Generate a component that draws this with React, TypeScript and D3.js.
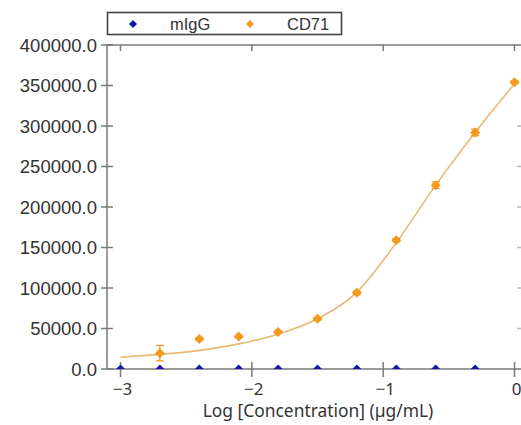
import React from "react";
import * as d3 from "d3";

const logConc = [-2.7, -2.4, -2.1, -1.8, -1.5, -1.2, -0.9, -0.6, -0.3, 0];
const cd71Values = [19500, 37000, 40000, 45700, 62000, 94000, 159000, 227000, 292000, 354000];
const cd71Errors = [9500, 1500, 1500, 1500, 1500, 2000, 2000, 4000, 4000, 1500];
const migGConc = [-3, -2.7, -2.4, -2.1, -1.8, -1.5, -1.2, -0.9, -0.6, -0.3];
const migGValues = [0, 0, 0, 0, 0, 0, 0, 0, 0, 0];
const curveX = [-3, -2.7, -2.4, -2.1, -1.8, -1.5, -1.2, -0.9, -0.6, -0.3, 0];
const curveY = [14500, 18000, 23000, 31000, 43000, 62000, 95000, 156000, 227000, 292000, 352000];
const yTicks = [0, 50000, 100000, 150000, 200000, 250000, 300000, 350000, 400000];
const xTicks = [-3, -2, -1, 0];
const seriesNames = ["mIgG", "CD71"];

const W = 521, H = 425;
const blue = "#1414b4";
const orange = "#f39a1e";
const curveColor = "#e8ba74";
const axisColor = "#7a7a7a";

export default function App() {
  const x = d3.scaleLinear().domain([-3, 0]).range([120.5, 514.5]);
  const y = d3.scaleLinear().domain([0, 400000]).range([369, 45]);
  const line = d3.line<number>().x((_, i) => x(curveX[i])).y((v) => y(v)).curve(d3.curveMonotoneX);
  const diamond = (cx: number, cy: number, r: number) =>
    `M${cx},${cy - r}L${cx + r},${cy}L${cx},${cy + r}L${cx - r},${cy}Z`;
  const yFmt = (v: number) => v.toFixed(1);
  const x0 = 107;
  return (
    <svg width={W} height={H} style={{ position: "absolute", left: 0, top: 0, background: "#fff" }}>
      <defs>
        <clipPath id="plot">
          <rect x={x0} y={20} width={W - x0} height={369 - 20} />
        </clipPath>
      </defs>
      {/* legend */}
      <rect x={107.5} y={12.5} width={234} height={22} fill="#fff" stroke="#444" strokeWidth={1.6} />
      <path d={diamond(133, 24, 4)} fill={blue} />
      <text x={170} y={30} fontFamily="Arial, Liberation Sans, sans-serif" fontSize={16.5} fill="#333">{seriesNames[0]}</text>
      <path d={diamond(250, 24, 4)} fill={orange} />
      <text x={287} y={30} fontFamily="Arial, Liberation Sans, sans-serif" fontSize={16.5} fill="#333">{seriesNames[1]}</text>

      {/* top axis */}
      <line x1={x0} x2={W} y1={45} y2={45} stroke={axisColor} strokeWidth={1.5} />
      {xTicks.map((t) => (
        <line key={"tt" + t} x1={x(t)} x2={x(t)} y1={45} y2={51} stroke={axisColor} strokeWidth={1.5} />
      ))}
      {/* right ticks */}
      {yTicks.filter((t) => t > 0 && t < 350000).map((t) => (
        <line key={"rt" + t} x1={517} x2={521} y1={y(t)} y2={y(t)} stroke="#bbb" strokeWidth={1.5} />
      ))}
      {/* y axis */}
      <line x1={x0} x2={x0} y1={45} y2={369} stroke={axisColor} strokeWidth={1.5} />
      {yTicks.map((t) => (
        <g key={"y" + t}>
          <line x1={101} x2={113} y1={y(t)} y2={y(t)} stroke={axisColor} strokeWidth={1.5} />
          <text x={97} y={y(t)} dy="0.36em" textAnchor="end" fontFamily="Arial, Liberation Sans, sans-serif" fontSize={18.5} fill="#333">{yFmt(t)}</text>
        </g>
      ))}
      {/* x axis */}
      <line x1={x0} x2={W} y1={369} y2={369} stroke={axisColor} strokeWidth={1.5} />
      {xTicks.map((t) => (
        <g key={"x" + t}>
          <line x1={x(t)} x2={x(t)} y1={362} y2={377} stroke={axisColor} strokeWidth={1.5} />
          <text x={x(t) + 2} y={389} dy="0.36em" textAnchor="middle" fontFamily="Noto Sans, sans-serif" fontSize={17} fill="#333">{t < 0 ? "\u2212" + Math.abs(t) : t}</text>
        </g>
      ))}
      <text x={318} y={411} dy="0.36em" textAnchor="middle" fontFamily="Noto Sans, sans-serif" fontSize={17.4} fill="#333">Log [Concentration] (µg/mL)</text>

      {/* fit curve */}
      <path d={line(curveY) || ""} fill="none" stroke={curveColor} strokeWidth={1.6} />
      {/* CD71 points */}
      {logConc.map((c, i) => {
        const cx = x(c), cy = y(cd71Values[i]);
        const t = y(cd71Values[i] + cd71Errors[i]), b = y(cd71Values[i] - cd71Errors[i]);
        return (
          <g key={"c" + i}>
            <line x1={cx} x2={cx} y1={t} y2={b} stroke={orange} strokeWidth={1.3} />
            <line x1={cx - 4} x2={cx + 4} y1={t} y2={t} stroke={orange} strokeWidth={1.3} />
            <line x1={cx - 4} x2={cx + 4} y1={b} y2={b} stroke={orange} strokeWidth={1.3} />
            <path d={diamond(cx, cy, 5)} fill={orange} />
          </g>
        );
      })}
      {/* mIgG points */}
      <g clipPath="url(#plot)">
        {migGConc.map((c, i) => (
          <path key={"m" + i} d={diamond(x(c), y(migGValues[i]), 4.5)} fill={blue} />
        ))}
      </g>
    </svg>
  );
}
